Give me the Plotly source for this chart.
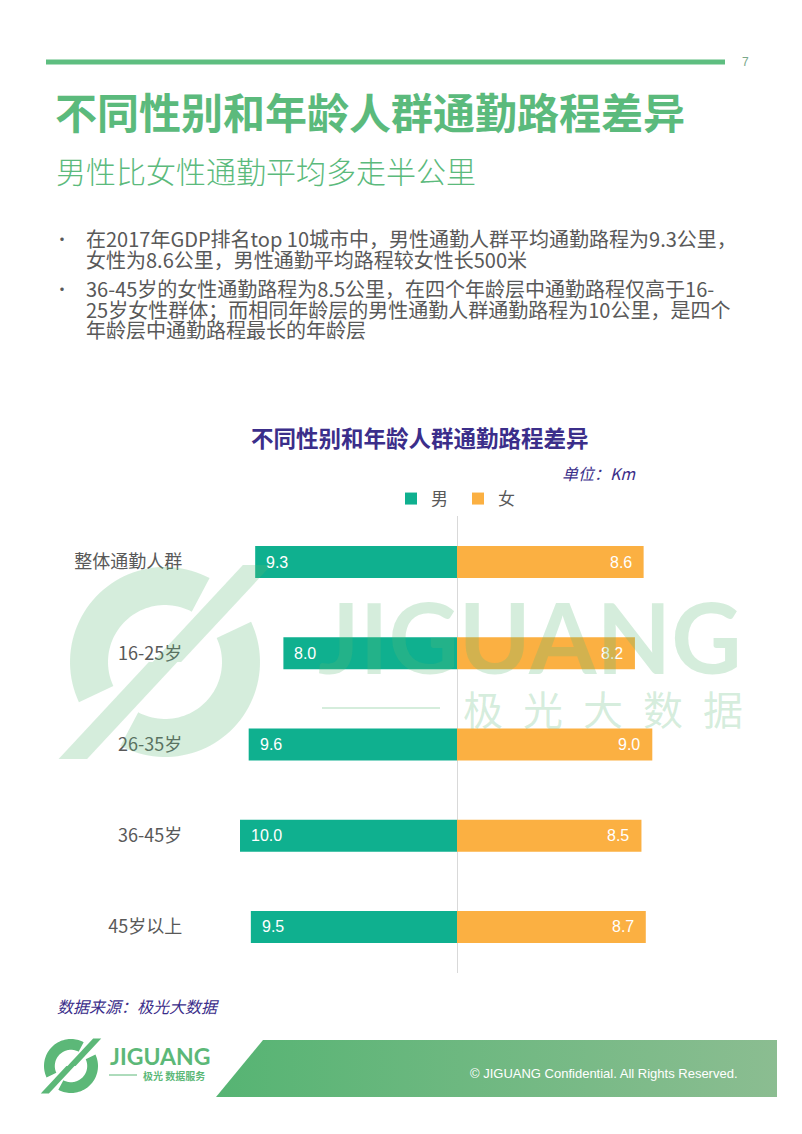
import math
import plotly.graph_objects as go

W, H = 802, 1134

# ---------------- data ----------------
categories = ["整体通勤人群", "16-25岁", "26-35岁", "36-45岁", "45岁以上"]
male = [9.3, 8.0, 9.6, 10.0, 9.5]
female = [8.6, 8.2, 9.0, 8.5, 8.7]
series_names = ["男", "女"]

bullet_lines = [
    ["在2017年GDP排名top 10城市中，男性通勤人群平均通勤路程为9.3公里，",
     "女性为8.6公里，男性通勤平均路程较女性长500米"],
    ["36-45岁的女性通勤路程为8.5公里，在四个年龄层中通勤路程仅高于16-",
     "25岁女性群体；而相同年龄层的男性通勤人群通勤路程为10公里，是四个",
     "年龄层中通勤路程最长的年龄层"],
]

# ---------------- style ----------------
MALE_C = "#0fb08f"
FEMALE_C = "#fbb042"
GREEN = "#5bba7c"
PURPLE = "#3b2e8a"
GRAY = "#595959"
CJK = "Noto Sans CJK SC"
WM = "rgba(92,184,120,0.26)"


def px(x, y):
    return x / W, 1 - y / H


def poly_path(pts):
    s = ""
    for i, (x, y) in enumerate(pts):
        X, Y = px(x, y)
        s += ("M" if i == 0 else "L") + f"{X:.5f},{Y:.5f}"
    return s + "Z"


def logo_pieces(cx, cy, R):
    def P(ux, uy):
        return (cx + R * ux, cy - R * uy)

    def sector(a0, a1, rin=0.60, rout=1.0, n=48):
        pts = []
        for k in range(n + 1):
            a = math.radians(a0 + (a1 - a0) * k / n)
            pts.append(P(rout * math.cos(a), rout * math.sin(a)))
        for k in range(n + 1):
            a = math.radians(a1 - (a1 - a0) * k / n)
            pts.append(P(rin * math.cos(a), rin * math.sin(a)))
        return pts

    pieces = [sector(62, 205), sector(242, 385)]
    w = 0.30
    pieces.append([P(-1.12, -1.02), P(-1.12 + w, -1.02), P(-0.02 + w / 2, 0.0), P(-0.02 - w / 2, 0.0)])
    pieces.append([P(1.12, 1.02), P(1.12 - w, 1.02), P(0.02 - w / 2, 0.0), P(0.02 + w / 2, 0.0)])
    return pieces


fig = go.Figure()

fig.add_trace(go.Bar(
    y=categories, x=[-v for v in male], orientation="h", name=series_names[0],
    marker=dict(color=MALE_C, line=dict(width=0)), width=0.35, hoverinfo="skip",
))
fig.add_trace(go.Bar(
    y=categories, x=female, orientation="h", name=series_names[1],
    marker=dict(color=FEMALE_C, line=dict(width=0)), width=0.35, hoverinfo="skip",
))

# gradient footer band on a page-pixel overlay axis
fig.add_trace(go.Scatter(
    x=[263, 777, 777, 216, 263], y=[1040, 1040, 1097, 1097, 1040],
    xaxis="x2", yaxis="y2", mode="lines", line=dict(width=0),
    fill="toself", fillcolor="#6fba82",
    fillgradient=dict(type="horizontal", colorscale=[[0, "#56b473"], [1, "#8bbd91"]]),
    showlegend=False, hoverinfo="skip",
))

x0, x1 = 218.3, 695.7
y_top, y_bot = 516.4, 972.6

fig.update_layout(
    width=W, height=H,
    margin=dict(l=0, r=0, t=0, b=0),
    paper_bgcolor="white", plot_bgcolor="rgba(0,0,0,0)",
    barmode="overlay",
    showlegend=True,
    legend=dict(orientation="h", x=458 / W, xanchor="center", y=1 - 499 / H, yanchor="middle",
                font=dict(family=CJK, size=17, color=GRAY), traceorder="normal",
                itemwidth=30, entrywidth=22, entrywidthmode="pixels", bgcolor="rgba(0,0,0,0)"),
    xaxis=dict(domain=[x0 / W, x1 / W], range=[-11, 11], showgrid=False, showticklabels=False,
               zeroline=True, zerolinecolor="#d9d9d9", zerolinewidth=1, fixedrange=True),
    yaxis=dict(domain=[1 - y_bot / H, 1 - y_top / H], type="category", categoryorder="array",
               categoryarray=categories, range=[4.5, -0.5], showgrid=False, zeroline=False,
               showline=False, ticks="", ticklabelstandoff=35,
               tickfont=dict(family=CJK, size=18, color=GRAY)),
    xaxis2=dict(domain=[0, 1], range=[0, W], visible=False, anchor="y2", fixedrange=True),
    yaxis2=dict(domain=[0, 1], range=[H, 0], visible=False, anchor="x2", fixedrange=True),
)

ann = []
shapes = []

# header line and page number
shapes.append(dict(type="line", xref="paper", yref="paper", x0=46 / W, x1=725 / W,
                   y0=1 - 62 / H, y1=1 - 62 / H, line=dict(color="#5ebe80", width=5)))
ann.append(dict(text="7", x=745 / W, y=1 - 62 / H, xref="paper", yref="paper", xanchor="center",
                yanchor="middle", showarrow=False, font=dict(family="Liberation Sans", size=12, color="#7aa88a")))

# titles
ann.append(dict(text="<b>不同性别和年龄人群通勤路程差异</b>", x=53 / W, y=1 - 110 / H, xref="paper", yref="paper",
                xanchor="left", yanchor="middle", showarrow=False,
                font=dict(family=CJK, size=42, color=GREEN)))
ann.append(dict(text="男性比女性通勤平均多走半公里", x=54 / W, y=1 - 170 / H, xref="paper", yref="paper",
                xanchor="left", yanchor="middle", showarrow=False,
                font=dict(family=CJK, size=30, color=GREEN, weight=300)))

# bullets
line_y = [[238, 259], [288, 309, 330]]
for blk, ys in zip(bullet_lines, line_y):
    ann.append(dict(text="•", x=62 / W, y=1 - ys[0] / H, xref="paper", yref="paper", xanchor="center",
                    yanchor="middle", showarrow=False, font=dict(family=CJK, size=16, color=GRAY)))
    for t, yy in zip(blk, ys):
        ann.append(dict(text=t, x=84 / W, y=1 - yy / H, xref="paper", yref="paper", xanchor="left",
                        yanchor="middle", showarrow=False, font=dict(family=CJK, size=20, color=GRAY)))

# chart title & unit
ann.append(dict(text="<b>不同性别和年龄人群通勤路程差异</b>", x=420 / W, y=1 - 437 / H, xref="paper", yref="paper",
                xanchor="center", yanchor="middle", showarrow=False,
                font=dict(family=CJK, size=22.5, color=PURPLE)))
ann.append(dict(text="<i>单位：Km</i>", x=638 / W, y=1 - 473 / H, xref="paper", yref="paper",
                xanchor="right", yanchor="middle", showarrow=False,
                font=dict(family=CJK, size=16, color=PURPLE)))

# value labels
for c, v in zip(categories, male):
    ann.append(dict(text=f"{v:.1f}", x=-v, y=c, xref="x", yref="y", xanchor="left", yanchor="middle",
                    xshift=9, showarrow=False, font=dict(family="Liberation Sans", size=16, color="white")))
for c, v in zip(categories, female):
    ann.append(dict(text=f"{v:.1f}", x=v, y=c, xref="x", yref="y", xanchor="right", yanchor="middle",
                    xshift=-10, showarrow=False, font=dict(family="Liberation Sans", size=16, color="white")))

# source
ann.append(dict(text="<i>数据来源：极光大数据</i>", x=55 / W, y=1 - 1006 / H, xref="paper", yref="paper",
                xanchor="left", yanchor="middle", showarrow=False,
                font=dict(family=CJK, size=16, color=PURPLE)))

# footer
ann.append(dict(text="© JIGUANG Confidential. All Rights Reserved.", x=740 / W, y=1 - 1073 / H,
                xref="paper", yref="paper", xanchor="right", yanchor="middle", showarrow=False,
                font=dict(family="Liberation Sans", size=13, color="white")))
for pts in logo_pieces(71, 1066, 27):
    shapes.append(dict(type="path", xref="paper", yref="paper", path=poly_path(pts),
                       fillcolor="#5cb878", line=dict(width=0), layer="above"))
ann.append(dict(text="<b>JIGUANG</b>", x=108 / W, y=1 - 1056 / H, xref="paper", yref="paper",
                xanchor="left", yanchor="middle", showarrow=False,
                font=dict(family="Lato", size=23, color="#5cb878")))
shapes.append(dict(type="line", xref="paper", yref="paper", x0=109 / W, x1=137 / W,
                   y0=1 - 1075 / H, y1=1 - 1075 / H, line=dict(color="#5cb878", width=1)))
ann.append(dict(text="<b>极光 数据服务</b>", x=141 / W, y=1 - 1075 / H, xref="paper", yref="paper",
                xanchor="left", yanchor="middle", showarrow=False,
                font=dict(family=CJK, size=10, color="#5cb878")))

# watermark (on top)
for pts in logo_pieces(165, 662, 95):
    shapes.append(dict(type="path", xref="paper", yref="paper", path=poly_path(pts),
                       fillcolor=WM, line=dict(width=0), layer="above"))
ann.append(dict(text="<b>JIGUANG</b>", x=530 / W, y=1 - 636 / H, xref="paper", yref="paper",
                xanchor="center", yanchor="middle", showarrow=False,
                font=dict(family="Lato", size=97, color=WM)))
shapes.append(dict(type="line", xref="paper", yref="paper", x0=322 / W, x1=440 / W,
                   y0=1 - 708 / H, y1=1 - 708 / H, line=dict(color=WM, width=2), layer="above"))
ann.append(dict(text="极\u2002光\u2002大\u2002数\u2002据", x=603 / W, y=1 - 708 / H, xref="paper", yref="paper",
                xanchor="center", yanchor="middle", showarrow=False,
                font=dict(family=CJK, size=40, color=WM)))

fig.update_layout(annotations=ann, shapes=shapes)
fig.write_html("out.html")
